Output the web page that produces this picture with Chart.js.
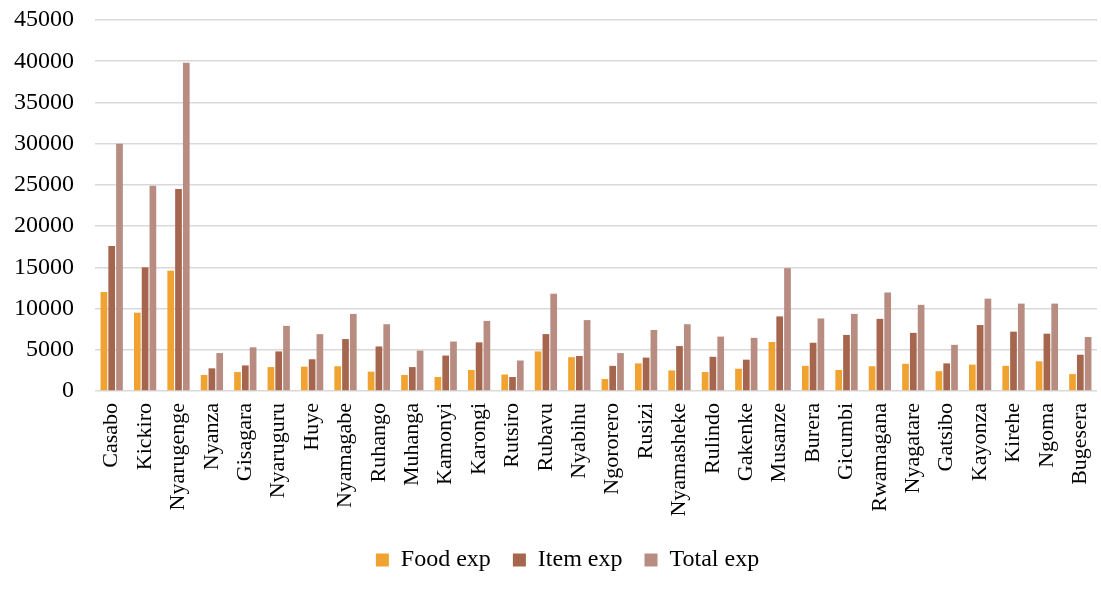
<!DOCTYPE html>
<html>
<head>
<meta charset="utf-8">
<script src="https://cdn.jsdelivr.net/npm/chart.js@4.4.1/dist/chart.umd.min.js"></script>
<style>
html,body{margin:0;padding:0;background:#fff;}
#wrap{width:1101px;height:590px;position:relative;}
</style>
</head>
<body>
<div id="wrap"><canvas id="c" width="1101" height="590"></canvas></div>
<script>
const categories = ["Casabo","Kickiro","Nyarugenge","Nyanza","Gisagara","Nyaruguru","Huye","Nyamagabe","Ruhango","Muhanga","Kamonyi","Karongi","Rutsiro","Rubavu","Nyabihu","Ngororero","Rusizi","Nyamasheke","Rulindo","Gakenke","Musanze","Burera","Gicumbi","Rwamagana","Nyagatare","Gatsibo","Kayonza","Kirehe","Ngoma","Bugesera"];
const foodExp = [12000,9500,14600,1950,2300,2900,2950,3000,2350,1950,1700,2550,2000,4800,4100,1450,3350,2500,2300,2700,5950,3050,2550,3000,3300,2400,3200,3050,3600,2050];
const itemExp = [17600,15000,24500,2750,3100,4800,3850,6300,5400,2900,4300,5900,1700,6900,4250,3050,4050,5450,4150,3800,9050,5850,6800,8750,7050,3350,8000,7200,6950,4400];
const totalExp = [30000,24900,39800,4600,5300,7900,6900,9350,8100,4900,6000,8500,3700,11800,8600,4600,7400,8100,6600,6450,14900,8800,9350,11950,10450,5600,11200,10600,10600,6550];
const seriesNames = ["Food exp","Item exp","Total exp"];
const yTicks = [0,5000,10000,15000,20000,25000,30000,35000,40000,45000];

const FONT = "'Liberation Serif','Times New Roman',serif";
Chart.defaults.font.family = FONT;
Chart.defaults.color = '#000';

const legendShift = {
  id: 'legendShift',
  afterLayout(chart) {
    if (chart.legend) { chart.legend.left += 19; chart.legend.right += 19; }
  }
};

new Chart(document.getElementById('c'), {
  type: 'bar',
  data: {
    labels: categories,
    datasets: [
      {label: seriesNames[0], data: foodExp, backgroundColor: '#F0A331'},
      {label: seriesNames[1], data: itemExp, backgroundColor: '#A5664D'},
      {label: seriesNames[2], data: totalExp, backgroundColor: '#B88C80'}
    ]
  },
  plugins: [legendShift],
  options: {
    responsive: false,
    animation: false,
    devicePixelRatio: 1,
    layout: {padding: {top: 20, right: 4, bottom: 8, left: 0}},
    datasets: {bar: {barPercentage: 0.86, categoryPercentage: 0.7, borderWidth: 0}},
    plugins: {
      legend: {
        position: 'bottom',
        labels: {
          boxWidth: 13, boxHeight: 13, padding: 22,
          font: {size: 24, family: FONT}, color: '#000'
        }
      },
      tooltip: {enabled: false}
    },
    scales: {
      x: {
        grid: {display: false, drawTicks: false},
        border: {display: false},
        ticks: {
          minRotation: 90, maxRotation: 90, autoSkip: false, padding: 12,
          font: {size: 22, family: FONT}, color: '#000'
        },
        afterFit: (s) => { s.height = 135; s.paddingLeft = 0; s.paddingRight = 0; }
      },
      y: {
        min: 0, max: 45000,
        afterBuildTicks: (s) => { s.ticks = yTicks.map(v => ({value: v})); },
        grid: {color: '#d9d9d9', lineWidth: 1.5, drawTicks: false},
        border: {display: false},
        ticks: {padding: 21, font: {size: 24, family: FONT}, color: '#000',
                callback: (v) => String(v)},
        afterFit: (s) => { s.width = 95; s.paddingTop = 0; s.paddingBottom = 0; }
      }
    }
  }
});
</script>
</body>
</html>
